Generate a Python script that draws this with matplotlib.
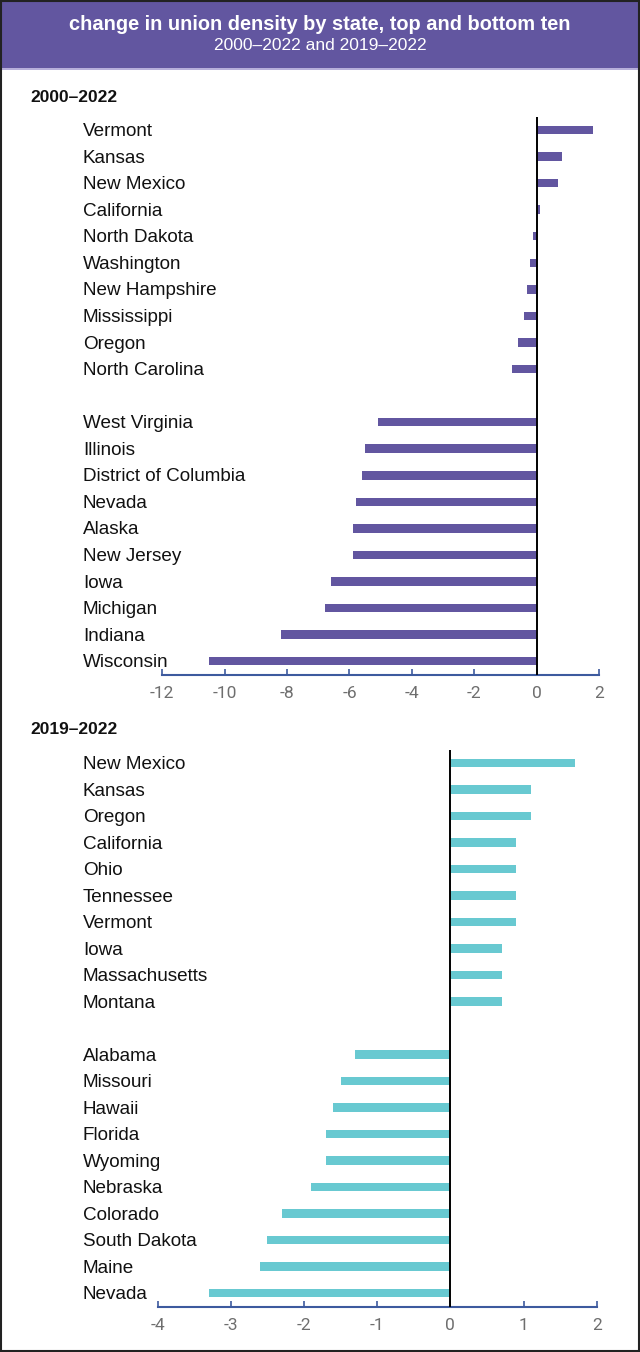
import matplotlib
matplotlib.use("Agg")
from matplotlib import pyplot as plt
from matplotlib import transforms
from matplotlib.patches import Rectangle
from matplotlib.lines import Line2D

# 2000-2022 change, top ten then bottom ten
states_a_top = ["Vermont", "Kansas", "New Mexico", "California", "North Dakota",
                "Washington", "New Hampshire", "Mississippi", "Oregon", "North Carolina"]
values_a_top = [1.8, 0.8, 0.7, 0.1, -0.1, -0.2, -0.3, -0.4, -0.6, -0.8]
states_a_bot = ["West Virginia", "Illinois", "District of Columbia", "Nevada", "Alaska",
                "New Jersey", "Iowa", "Michigan", "Indiana", "Wisconsin"]
values_a_bot = [-5.1, -5.5, -5.6, -5.8, -5.9, -5.9, -6.6, -6.8, -8.2, -10.5]

# 2019-2022 change
states_b_top = ["New Mexico", "Kansas", "Oregon", "California", "Ohio",
                "Tennessee", "Vermont", "Iowa", "Massachusetts", "Montana"]
values_b_top = [1.7, 1.1, 1.1, 0.9, 0.9, 0.9, 0.9, 0.7, 0.7, 0.7]
states_b_bot = ["Alabama", "Missouri", "Hawaii", "Florida", "Wyoming",
                "Nebraska", "Colorado", "South Dakota", "Maine", "Nevada"]
values_b_bot = [-1.3, -1.5, -1.6, -1.7, -1.7, -1.9, -2.3, -2.5, -2.6, -3.3]

xticks_a = [-12, -10, -8, -6, -4, -2, 0, 2]
xticks_b = [-4, -3, -2, -1, 0, 1, 2]

purple = "#6256a0"
teal = "#68c9d1"
axis_blue = "#3d5a9e"
W, H = 640, 1352

fig = plt.figure(figsize=(W / 100, H / 100), dpi=100)


def fy(py):
    return 1 - py / H


# header band
fig.patches.append(Rectangle((0, fy(68)), 1, 68 / H, transform=fig.transFigure,
                             facecolor=purple, edgecolor="none", zorder=0))
fig.lines.append(Line2D([0, 1], [fy(68.5), fy(68.5)], transform=fig.transFigure,
                        color="#a99fd4", lw=1.2))
fig.text(0.5, fy(24), "change in union density by state, top and bottom ten",
         ha="center", va="center", color="white", fontsize=14.4,
         fontweight="bold", family="Liberation Sans")
fig.text(0.5, fy(45), "2000\u20132022 and 2019\u20132022", ha="center", va="center",
         color="white", fontsize=12.5, family="Liberation Sans")

# outer frame
fig.patches.append(Rectangle((1 / W, 1 / H), 1 - 2 / W, 1 - 2 / H, transform=fig.transFigure,
                             fill=False, edgecolor="#222222", lw=1.5, zorder=10))


def panel(x0, x1, ytop, yaxis, title, title_y, names, values, color, xlim, xticks):
    ax = fig.add_axes([x0 / W, fy(yaxis), (x1 - x0) / W, (yaxis - ytop) / H])
    pos = list(range(10)) + list(range(11, 21))
    ax.barh(pos, values, height=0.32, color=color, zorder=2)
    ax.set_xlim(*xlim)
    ax.set_ylim(20.52, -0.5)
    ax.axvline(0, color="black", lw=1.4, zorder=3)
    for s in ["left", "top", "right"]:
        ax.spines[s].set_visible(False)
    ax.spines["bottom"].set_color(axis_blue)
    ax.spines["bottom"].set_linewidth(1.5)
    ax.set_yticks([])
    ax.set_xticks(xticks)
    ax.set_xticklabels([str(t) for t in xticks])
    ax.tick_params(axis="x", direction="in", length=4, width=1.2, color=axis_blue,
                   labelcolor="#6e6e6e", labelsize=12.5, pad=8)
    for lab in ax.get_xticklabels():
        lab.set_family("Roboto")
    tr = transforms.blended_transform_factory(fig.transFigure, ax.transData)
    for p, n in zip(pos, names):
        ax.text(83 / W, p + 0.06, n, transform=tr, ha="left", va="center",
                fontsize=13.6, family="Liberation Sans", color="#111111")
    fig.text(30 / W, fy(title_y), title, ha="left", va="center", fontsize=12.5,
             fontweight="bold", family="Liberation Sans", color="#111111")
    return ax


panel(162.3, 599, 116.7, 675, "2000\u20132022", 97,
      states_a_top + states_a_bot, values_a_top + values_a_bot, purple, (-12, 2), xticks_a)
panel(157.7, 596.7, 749.8, 1306.7, "2019\u20132022", 729,
      states_b_top + states_b_bot, values_b_top + values_b_bot, teal, (-4, 2), xticks_b)

fig.savefig("out.png", dpi=100)
